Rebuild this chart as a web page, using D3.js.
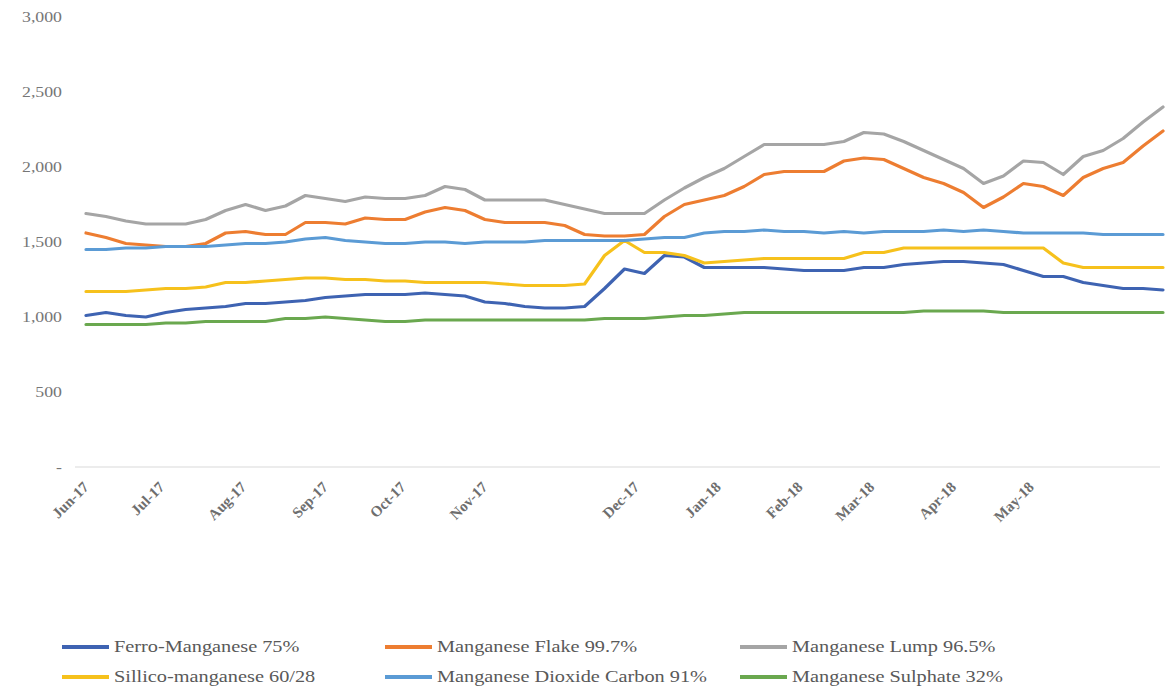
<!DOCTYPE html>
<html>
<head>
<meta charset="utf-8">
<script src="https://cdn.jsdelivr.net/npm/d3@7"></script>
<style>
  html, body { margin: 0; padding: 0; background: #ffffff; }
  svg { display: block; }
  .tick text { font-family: "Liberation Serif", "Times New Roman", serif; }
</style>
</head>
<body>
<svg id="chart" width="1166" height="693"></svg>
<script>
// Month labels along the category axis and the sample index each one sits at
const monthLabels = ["Jun-17", "Jul-17", "Aug-17", "Sep-17", "Oct-17", "Nov-17",
                     "Dec-17", "Jan-18", "Feb-18", "Mar-18", "Apr-18", "May-18"];
const monthIndex = [0, 3.8, 7.9, 12.0, 15.9, 20.0, 27.6, 31.7, 35.8, 39.4, 43.5, 47.4];

const yTicks = [0, 500, 1000, 1500, 2000, 2500, 3000];

// Price series (USD/t), one value per sample
const ferroManganese = [1010,1030,1010,1000,1030,1050,1060,1070,1090,1090,1100,1110,1130,1140,1150,1150,1150,1160,1150,1140,
  1100,1090,1070,1060,1060,1070,1190,1320,1290,1410,1400,1330,1330,1330,1330,1320,1310,1310,1310,1330,
  1330,1350,1360,1370,1370,1360,1350,1310,1270,1270,1230,1210,1190,1190,1180];
const manganeseFlake = [1560,1530,1490,1480,1470,1470,1490,1560,1570,1550,1550,1630,1630,1620,1660,1650,1650,1700,1730,1710,
  1650,1630,1630,1630,1610,1550,1540,1540,1550,1670,1750,1780,1810,1870,1950,1970,1970,1970,2040,2060,
  2050,1990,1930,1890,1830,1730,1800,1890,1870,1810,1930,1990,2030,2140,2240];
const manganeseLump = [1690,1670,1640,1620,1620,1620,1650,1710,1750,1710,1740,1810,1790,1770,1800,1790,1790,1810,1870,1850,
  1780,1780,1780,1780,1750,1720,1690,1690,1690,1780,1860,1930,1990,2070,2150,2150,2150,2150,2170,2230,
  2220,2170,2110,2050,1990,1890,1940,2040,2030,1950,2070,2110,2190,2300,2400];
const sillicoManganese = [1170,1170,1170,1180,1190,1190,1200,1230,1230,1240,1250,1260,1260,1250,1250,1240,1240,1230,1230,1230,
  1230,1220,1210,1210,1210,1220,1410,1510,1430,1430,1410,1360,1370,1380,1390,1390,1390,1390,1390,1430,
  1430,1460,1460,1460,1460,1460,1460,1460,1460,1360,1330,1330,1330,1330,1330];
const manganeseDioxide = [1450,1450,1460,1460,1470,1470,1470,1480,1490,1490,1500,1520,1530,1510,1500,1490,1490,1500,1500,1490,
  1500,1500,1500,1510,1510,1510,1510,1510,1520,1530,1530,1560,1570,1570,1580,1570,1570,1560,1570,1560,
  1570,1570,1570,1580,1570,1580,1570,1560,1560,1560,1560,1550,1550,1550,1550];
const manganeseSulphate = [950,950,950,950,960,960,970,970,970,970,990,990,1000,990,980,970,970,980,980,980,
  980,980,980,980,980,980,990,990,990,1000,1010,1010,1020,1030,1030,1030,1030,1030,1030,1030,
  1030,1030,1040,1040,1040,1040,1030,1030,1030,1030,1030,1030,1030,1030,1030];

const seriesNames = ["Ferro-Manganese 75%", "Manganese Flake 99.7%", "Manganese Lump 96.5%",
                     "Sillico-manganese 60/28", "Manganese Dioxide Carbon 91%", "Manganese Sulphate 32%"];
const seriesValues = [ferroManganese, manganeseFlake, manganeseLump,
                      sillicoManganese, manganeseDioxide, manganeseSulphate];
const seriesColors = ["#3e63b2", "#ed7d31", "#a5a5a5", "#f6c11c", "#5b9bd5", "#6aa84f"];

const series = seriesNames.map((name, i) => ({ name, values: seriesValues[i], color: seriesColors[i] }));

const svg = d3.select("#chart");
const serif = "'Liberation Serif', 'Times New Roman', serif";
const wide = 1.27; // horizontal stretch of the lettering

const x = d3.scaleLinear().domain([0, ferroManganese.length - 1]).range([86, 1163]);
const y = d3.scaleLinear().domain([0, 3000]).range([467, 17]);

// Value axis: labels only, zero shown as a dash
const yAxis = d3.axisLeft(y)
  .tickValues(yTicks)
  .tickSize(0)
  .tickPadding(4)
  .tickFormat(d => d === 0 ? "-" : d3.format(",")(d));

const gy = svg.append("g").attr("transform", "translate(66,0)").call(yAxis);
gy.select(".domain").remove();
gy.selectAll("text")
  .attr("fill", "#767676")
  .style("font-size", "14px")
  .attr("x", 0)
  .attr("transform", `translate(-4,0) scale(${wide},1)`);

// Category axis baseline and rotated month labels
const xAxis = d3.axisBottom(x)
  .tickValues(monthIndex)
  .tickSize(0)
  .tickPadding(0)
  .tickFormat((d, i) => monthLabels[i]);

const gx = svg.append("g").attr("transform", "translate(0,467)").call(xAxis);
gx.select(".domain").remove();
gx.append("line")
  .attr("x1", 75).attr("x2", 1160)
  .attr("y1", 0).attr("y2", 0)
  .attr("stroke", "#d9d9d9").attr("stroke-width", 1);
gx.selectAll(".tick text")
  .attr("fill", "#6e6e6e")
  .style("font-size", "15px")
  .style("font-weight", "bold")
  .attr("text-anchor", "end")
  .attr("dy", "0")
  .attr("transform", "translate(3,21) rotate(-45)");

// Series lines
const line = d3.line()
  .x((d, i) => x(i))
  .y(d => y(d));

svg.append("g")
  .selectAll("path")
  .data(series)
  .join("path")
  .attr("d", d => line(d.values))
  .attr("fill", "none")
  .attr("stroke", d => d.color)
  .attr("stroke-width", 3.2)
  .attr("stroke-linejoin", "round")
  .attr("stroke-linecap", "round");

// Legend: two rows of three entries
const legendCols = [62, 385, 740];
const legendRows = [647, 677];

const legend = svg.append("g")
  .selectAll("g")
  .data(series)
  .join("g")
  .attr("transform", (d, i) => `translate(${legendCols[i % 3]},${legendRows[Math.floor(i / 3)]})`);

legend.append("line")
  .attr("x1", 0).attr("x2", 47)
  .attr("y1", 0).attr("y2", 0)
  .attr("stroke", d => d.color)
  .attr("stroke-width", 4);

legend.append("text")
  .attr("x", 0)
  .attr("y", 0)
  .attr("dy", "0.33em")
  .attr("transform", `translate(52,0) scale(${wide},1)`)
  .attr("fill", "#595959")
  .style("font-family", serif)
  .style("font-size", "16px")
  .text(d => d.name);
</script>
</body>
</html>
